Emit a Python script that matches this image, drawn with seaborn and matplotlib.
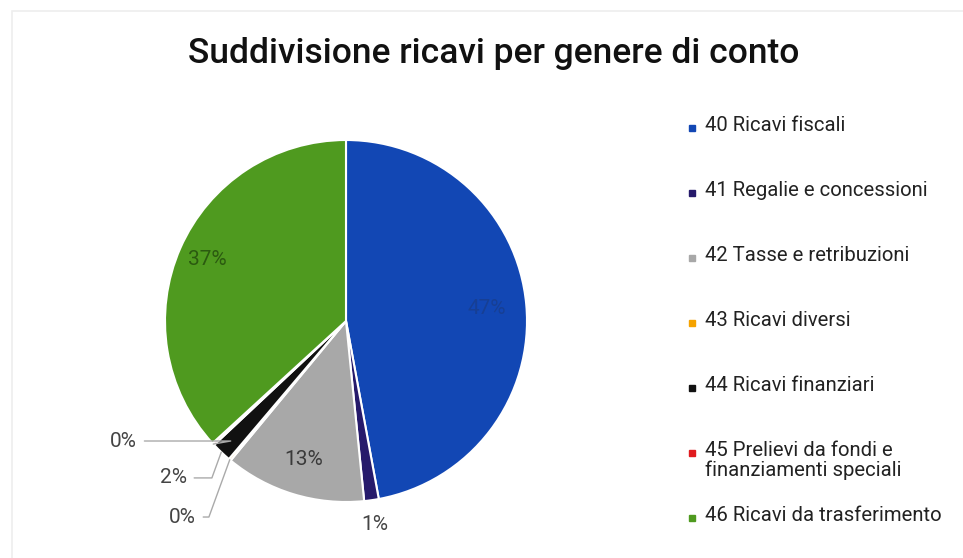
import numpy as np
import seaborn as sns
import matplotlib.pyplot as plt
from matplotlib.patches import Rectangle

# -------------------------
# Data
# -------------------------
categories = [
    "40 Ricavi fiscali",
    "41 Regalie e concessioni",
    "42 Tasse e retribuzioni",
    "43 Ricavi diversi",
    "44 Ricavi finanziari",
    "45 Prelievi da fondi e\nfinanziamenti speciali",
    "46 Ricavi da trasferimento",
]
shares = [47.1, 1.3, 12.6, 0.2, 1.8, 0.2, 36.8]
pct_labels = ["47%", "1%", "13%", "0%", "2%", "0%", "37%"]
colors = ["#1247b4", "#261a6b", "#a8a8a8", "#f5a300", "#111111", "#e01b1f", "#4f9a1f"]
label_colors = ["#173f94", "#555555", "#3a3a3a", "#555555", "#555555", "#555555", "#2b5a10"]

# -------------------------
# Figure
# -------------------------
sns.set_theme(style="white")
plt.rcParams["font.family"] = ["Roboto", "DejaVu Sans"]

fig = plt.figure(figsize=(9.63, 5.58), dpi=100)
fig.patches.append(Rectangle((12 / 963, -0.1), 1.2, (558 - 11) / 558 + 0.1,
                             transform=fig.transFigure, fill=False,
                             edgecolor="#eeeeee", linewidth=1.2))

fig.text(0.513, 0.905, "Suddivisione ricavi per genere di conto",
         ha="center", va="center", fontsize=25.5, fontweight="medium",
         color="#111111")

# pie axes: centre at (346, 321) px, radius 181 px
r_px = 181
lim = 1.3
size = 2 * lim * r_px
ax = fig.add_axes([(346 - size / 2) / 963, (558 - 321 - size / 2) / 558,
                   size / 963, size / 558])
wedges, _ = ax.pie(shares, colors=colors, startangle=90, counterclock=False,
                   wedgeprops=dict(edgecolor="white", linewidth=1.5))
ax.set_xlim(-lim, lim)
ax.set_ylim(-lim, lim)
ax.set_aspect("equal")
ax.axis("off")

# inside labels for the large slices
inside = {0: 0.78, 2: 0.8, 6: 0.84}
# outside labels: text anchor (pie radius units)
outside = {
    1: (0.16, -1.127),
    3: (-0.83, -1.083),
    4: (-0.88, -0.867),
    5: (-1.155, -0.663),
}
for i, w in enumerate(wedges):
    ang = np.deg2rad((w.theta1 + w.theta2) / 2)
    cx, cy = np.cos(ang), np.sin(ang)
    if i in inside:
        d = inside[i]
        ax.text(d * cx, d * cy, pct_labels[i], ha="center", va="center",
                fontsize=15, color=label_colors[i])
    elif i == 1:
        tx, ty = outside[i]
        ax.text(tx, ty, pct_labels[i], ha="center", va="center",
                fontsize=15, color="#444444")
    else:
        tx, ty = outside[i]
        ax.annotate(pct_labels[i], xy=(1.0 * cx, 1.0 * cy), xytext=(tx, ty),
                    ha="right", va="center", fontsize=15, color="#444444",
                    arrowprops=dict(arrowstyle="-", color="#aaaaaa", lw=1,
                                    shrinkA=3, shrinkB=0,
                                    connectionstyle="angle,angleA=0,angleB=%d,rad=0"
                                    % (70 if i != 5 else 10)))

# -------------------------
# Legend (manual, rows evenly spaced)
# -------------------------
leg = fig.add_axes([0, 0, 1, 1])
leg.set_xlim(0, 963)
leg.set_ylim(558, 0)
leg.axis("off")
row_y = [128 + 65 * k for k in range(len(categories))]
for y, lab, col in zip(row_y, categories, colors):
    leg.plot([692], [y], marker="s", markersize=4.5, color=col, linestyle="none")
    leg.text(705, y - 12, lab, ha="left", va="top", fontsize=14.6,
             color="#222222", linespacing=1.05)

fig.savefig("out.png", dpi=100)
